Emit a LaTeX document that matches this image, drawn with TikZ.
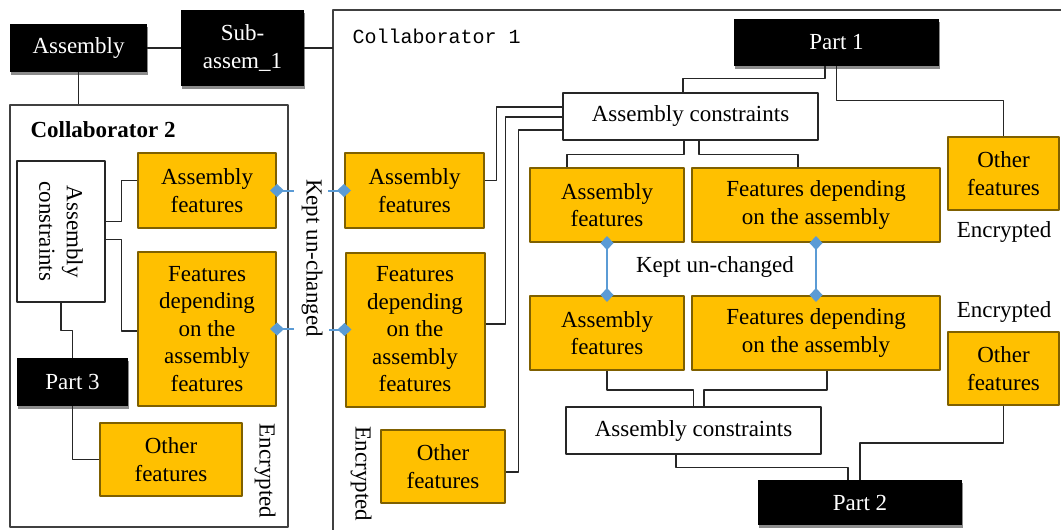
\documentclass[tikz,border=0pt]{standalone}
\usepackage{fontspec}
\setmainfont{Liberation Serif}
\setmonofont{Liberation Mono}
\usetikzlibrary{arrows.meta,shadows}
\definecolor{featfill}{HTML}{FFC000}
\definecolor{featline}{HTML}{7F6000}
\definecolor{keepblue}{HTML}{5B9BD5}
\definecolor{framegray}{HTML}{404040}
\begin{document}
\begin{tikzpicture}[x=1pt,y=-1pt,line join=round,
  font={\fontsize{23}{27.5}\selectfont},
  feat/.style={draw=featline,fill=featfill,line width=2pt,align=center,inner sep=0pt},
  blk/.style={fill=black,text=white,align=center,inner sep=0pt,
    drop shadow={shadow xshift=0.5pt,shadow yshift=-3pt,fill=black!45,opacity=1}},
  cbox/.style={draw=black!85,fill=white,line width=1.2pt,inner sep=0pt,align=center},
  frm/.style={draw=framegray,line width=1.2pt},
  lnk/.style={draw=black!85,line width=1.4pt},
  keep/.style={draw=keepblue,line width=2pt,shorten <=-7pt,
    arrows={Diamond[length=14pt,width=13pt,line width=0pt]-}},
  keepb/.style={draw=keepblue,line width=2pt,shorten <=-7pt,shorten >=-7pt,
    arrows={Diamond[length=14pt,width=13pt,line width=0pt]-Diamond[length=14pt,width=13pt,line width=0pt]}}]
\useasboundingbox (0,0) rectangle (1061,530);
% frames
\node[frm,minimum width=278,minimum height=422,inner sep=0pt] (col2) at (149,316) {};
\draw[frm] (1061,10) -- (333,10) -- (333,530);
\coordinate (c1w) at (333,48);
\node[anchor=west,font={\fontsize{20}{24}\selectfont\ttfamily}] (t1) at (349,36) {Collaborator 1};
\node[anchor=west,font={\fontsize{23}{27.5}\selectfont\bfseries}] (t2) at (27,130) {Collaborator 2};
% top boxes
\node[blk,minimum width=137,minimum height=48] (asm) at (78.5,48) {Assembly};
\node[blk,minimum width=123,minimum height=76] (sub) at (242.5,48) {Sub-\\assem\_1};
\draw[lnk] (asm.east) -- (sub.west);
\draw[lnk] (sub.east) -- (c1w);
\draw[lnk] (asm.south) -- (asm.south |- col2.north);
% collaborator 2
\node[cbox,minimum width=88,minimum height=141] (ac2) at (61,231.5) {};
\node[rotate=-90,align=center] (ac2t) at (ac2) {Assembly\\constraints};
\node[feat,minimum width=138,minimum height=75] (af2) at (207,190.5) {Assembly\\features};
\node[feat,minimum width=138,minimum height=154] (fd2) at (207,329) {Features\\depending\\on the\\assembly\\features};
\node[blk,minimum width=111,minimum height=48] (p3) at (72.5,382) {Part 3};
\node[feat,minimum width=142,minimum height=73] (of2) at (171,459.5) {Other\\features};
\node[rotate=-90] (enc2) at (265,471) {Encrypted};
\draw[lnk] ([yshift=10pt]ac2.east) -- ++(16,0) |- ([yshift=10pt]af2.west);
\draw[lnk] ([yshift=-8pt]ac2.east) -- ++(16,0) |- ([yshift=-2pt]fd2.west);
\draw[lnk] (ac2.south) -- ++(0,28) -| (p3.north);
\draw[lnk] (p3.south) |- (of2.west);
% collaborator 1, left column
\node[rotate=-90] (kept1) at (312,258) {Kept un-changed};
\node[feat,minimum width=139,minimum height=75] (af1) at (414.5,190.5) {Assembly\\features};
\node[feat,minimum width=139,minimum height=154] (fd1) at (415,329.5) {Features\\depending\\on the\\assembly\\features};
\node[feat,minimum width=124,minimum height=73] (of1) at (443,466.5) {Other\\features};
\node[rotate=-90] (enc1) at (361,474) {Encrypted};
\draw[keep] (af2.east) -- ++(17,0);
\draw[keep] (af1.west) -- ++(-16,0);
\draw[keep] (fd2.east) -- ++(17,0);
\draw[keep] (fd1.west) -- ++(-16,0);
% collaborator 1, parts
\node[blk,minimum width=205,minimum height=47] (p1) at (836.5,42.5) {Part 1};
\node[cbox,minimum width=255,minimum height=47] (act) at (690.5,116.5) {Assembly constraints};
\node[feat,minimum width=111,minimum height=73] (ofr1) at (1003.5,173.5) {Other\\features};
\node (encr1) at (1004,232) {Encrypted};
\node[feat,minimum width=154,minimum height=74] (afu) at (607,205) {Assembly\\features};
\node[feat,minimum width=248,minimum height=74] (fdu) at (816,205) {Features depending\\on the assembly};
\node (kept2) at (715,267) {Kept un-changed};
\node[feat,minimum width=154,minimum height=74] (afl) at (607,333) {Assembly\\features};
\node[feat,minimum width=248,minimum height=74] (fdl) at (816,333) {Features depending\\on the assembly};
\node[cbox,minimum width=255,minimum height=47] (acb) at (693.5,430.5) {Assembly constraints};
\node[blk,minimum width=204,minimum height=45] (p2) at (860,502.5) {Part 2};
\node[feat,minimum width=111,minimum height=73] (ofr2) at (1003.5,368.5) {Other\\features};
\node (encr2) at (1004,312) {Encrypted};
\draw[lnk] ([yshift=9.5pt]act.west) -- ++(-66,0) |- ([yshift=10pt]af1.east);
\draw[lnk] ([yshift=-0.5pt]act.west) -- ++(-57,0) |- ([yshift=5.5pt]fd1.east);
\draw[lnk] ([yshift=-13.5pt]act.west) -- ++(-44,0) |- ([yshift=-5.5pt]of1.east);
\draw[lnk] ([xshift=-11.5pt]p1.south) -- ++(0,12) -| ([xshift=-7.5pt]act.north);
\draw[lnk] (p1.south) -- ++(0,34) -| (ofr1.north);
\draw[lnk] ([xshift=-6.5pt]act.south) -- ++(0,14) -| ([xshift=-40pt]afu.north);
\draw[lnk] ([xshift=8.5pt]act.south) -- ++(0,14) -| ([xshift=-18pt]fdu.north);
\draw[keepb] (afu.south) -- (afl.north);
\draw[keepb] (fdu.south) -- (fdl.north);
\draw[lnk] (afl.south) -- ++(0,19) -| (acb.north);
\draw[lnk] ([xshift=11pt]fdl.south) -- ++(0,19) -| ([xshift=10.5pt]acb.north);
\draw[lnk] ([xshift=-17.5pt]acb.south) -- ++(0,13) -| ([xshift=-12pt]p2.north);
\draw[lnk] (ofr2.south) -- ++(0,37) -| (p2.north);
\end{tikzpicture}
\end{document}
